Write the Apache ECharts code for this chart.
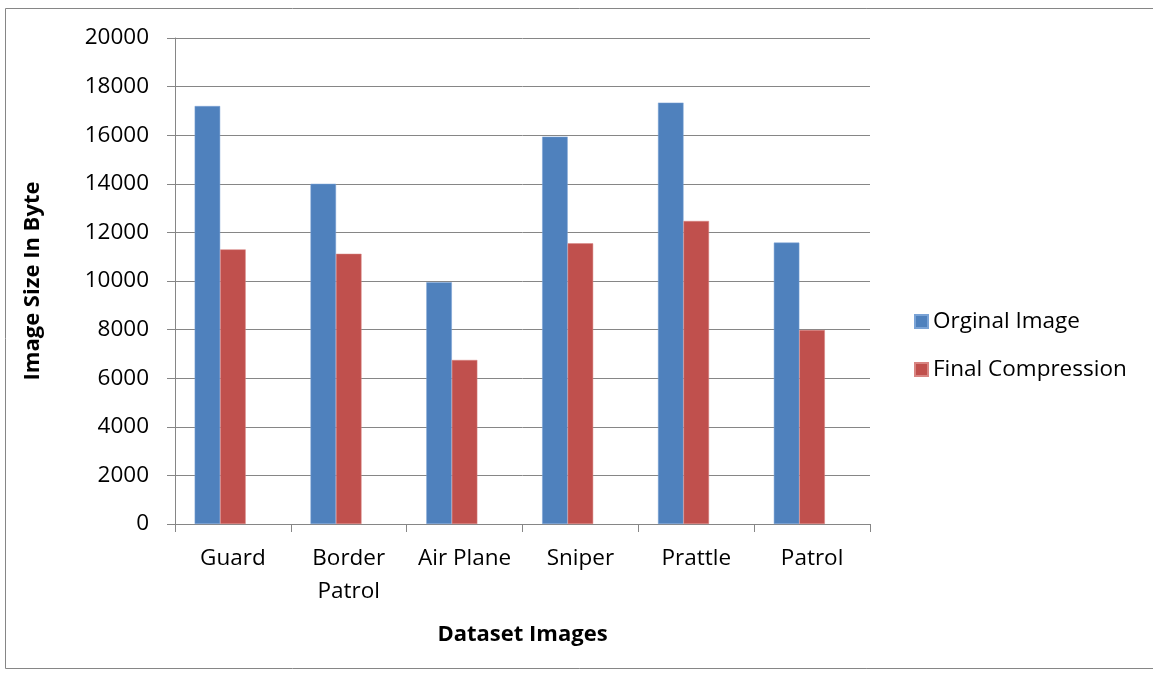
<!DOCTYPE html>
<html><head><meta charset="utf-8">
<script src="https://cdn.jsdelivr.net/npm/echarts@6/dist/echarts.min.js"></script>
<style>html,body{margin:0;padding:0;background:#fff}#c{width:1153px;height:677px}</style>
</head><body><div id="c"></div>
<script>
const categories = ['Guard', 'Border\nPatrol', 'Air Plane', 'Sniper', 'Prattle', 'Patrol'];
const original = [17200, 14000, 9950, 15940, 17340, 11580];
const finalComp = [11300, 11120, 6750, 11550, 12470, 7980];
const seriesNames = ['Orginal Image', 'Final Compression'];
const yTicks = {min: 0, max: 20000, interval: 2000};

const font = 'Open Sans, Noto Sans, sans-serif';
const chart = echarts.init(document.getElementById('c'));
chart.setOption({
  animation: false,
  graphic: [{type: 'rect', shape: {x: 5.5, y: 8.5, width: 1160, height: 660}, style: {fill: 'none', stroke: '#868686', lineWidth: 1}}],
  grid: {left: 175, top: 38, right: 283, bottom: 153},
  legend: {
    orient: 'vertical', left: 909, top: 305, itemGap: 25, itemWidth: 13, itemHeight: 13,
    icon: 'rect', textStyle: {fontFamily: font, fontSize: 22.5, color: '#000'},
    data: seriesNames
  },
  xAxis: {
    type: 'category', data: categories,
    name: 'Dataset Images', nameLocation: 'middle', nameGap: 100,
    nameTextStyle: {fontFamily: font, fontSize: 22, fontWeight: 'bold', color: '#000'},
    axisLine: {lineStyle: {color: '#868686'}},
    axisTick: {show: true, length: 8, lineStyle: {color: '#868686'}},
    axisLabel: {interval: 0, hideOverlap: false, fontFamily: font, fontSize: 22.5, color: '#000', margin: 18, lineHeight: 33}
  },
  yAxis: {
    type: 'value', min: yTicks.min, max: yTicks.max, interval: yTicks.interval,
    name: 'Image Size In Byte', nameLocation: 'middle', nameGap: 131,
    nameTextStyle: {fontFamily: font, fontSize: 22, fontWeight: 'bold', color: '#000'},
    axisLine: {show: true, lineStyle: {color: '#868686'}},
    axisTick: {show: true, length: 8, lineStyle: {color: '#868686'}},
    splitLine: {lineStyle: {color: '#868686'}},
    axisLabel: {fontFamily: font, fontSize: 22.5, color: '#000', margin: 26, formatter: v => String(v)}
  },
  series: [
    {name: seriesNames[0], type: 'bar', data: original, barWidth: 25.5, barGap: '0%',
     itemStyle: {color: '#4f81bd', borderColor: '#7aa3d6', borderWidth: 0.5}},
    {name: seriesNames[1], type: 'bar', data: finalComp, barWidth: 25.5,
     itemStyle: {color: '#c0504d', borderColor: '#d88582', borderWidth: 0.5}},
    {name: 'spacer', type: 'bar', data: [], barWidth: 25.5}
  ]
});
</script></body></html>
